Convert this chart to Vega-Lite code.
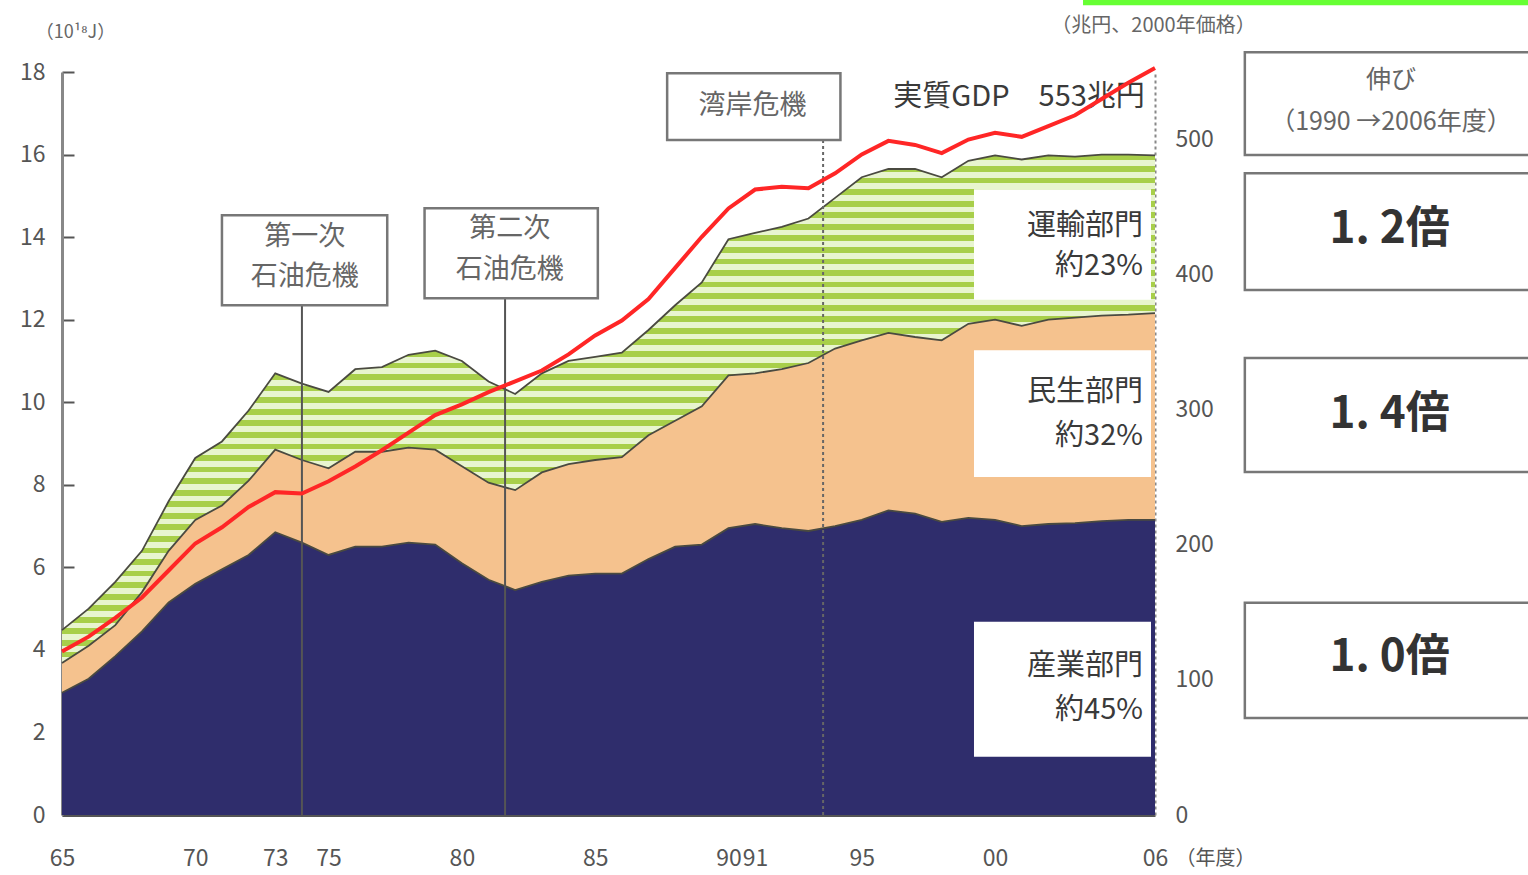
{
"$schema": "https://vega.github.io/schema/vega-lite/v6.json",
"width": 1093, "height": 743,
"autosize": {"type": "none"},
"padding": {"left": 62, "top": 72, "right": 373, "bottom": 60},
"background": "white",
"config": {"view": {"stroke": null}, "font": "Noto Sans CJK JP"},
"datasets": {
"energy": [
{"year":1965,"ind":2.96,"res":0.72,"tra":0.80,"gdp":121},
{"year":1966,"ind":3.30,"res":0.80,"tra":0.90,"gdp":132},
{"year":1967,"ind":3.85,"res":0.75,"tra":1.05,"gdp":146},
{"year":1968,"ind":4.45,"res":0.95,"tra":1.00,"gdp":161},
{"year":1969,"ind":5.15,"res":1.25,"tra":1.20,"gdp":181},
{"year":1970,"ind":5.60,"res":1.55,"tra":1.50,"gdp":201},
{"year":1971,"ind":5.95,"res":1.55,"tra":1.55,"gdp":213},
{"year":1972,"ind":6.30,"res":1.80,"tra":1.70,"gdp":228},
{"year":1973,"ind":6.85,"res":2.00,"tra":1.85,"gdp":239},
{"year":1974,"ind":6.60,"res":2.00,"tra":1.85,"gdp":238},
{"year":1975,"ind":6.30,"res":2.10,"tra":1.85,"gdp":247},
{"year":1976,"ind":6.50,"res":2.30,"tra":2.00,"gdp":258},
{"year":1977,"ind":6.50,"res":2.30,"tra":2.05,"gdp":270},
{"year":1978,"ind":6.60,"res":2.30,"tra":2.25,"gdp":283},
{"year":1979,"ind":6.55,"res":2.30,"tra":2.40,"gdp":296},
{"year":1980,"ind":6.10,"res":2.35,"tra":2.55,"gdp":304},
{"year":1981,"ind":5.70,"res":2.35,"tra":2.45,"gdp":313},
{"year":1982,"ind":5.45,"res":2.42,"tra":2.33,"gdp":321},
{"year":1983,"ind":5.65,"res":2.65,"tra":2.40,"gdp":329},
{"year":1984,"ind":5.80,"res":2.70,"tra":2.50,"gdp":341},
{"year":1985,"ind":5.85,"res":2.75,"tra":2.50,"gdp":355},
{"year":1986,"ind":5.85,"res":2.82,"tra":2.53,"gdp":366},
{"year":1987,"ind":6.20,"res":3.00,"tra":2.55,"gdp":382},
{"year":1988,"ind":6.50,"res":3.05,"tra":2.80,"gdp":405},
{"year":1989,"ind":6.55,"res":3.35,"tra":3.00,"gdp":428},
{"year":1990,"ind":6.95,"res":3.70,"tra":3.30,"gdp":449},
{"year":1991,"ind":7.05,"res":3.65,"tra":3.40,"gdp":463},
{"year":1992,"ind":6.95,"res":3.85,"tra":3.45,"gdp":465},
{"year":1993,"ind":6.88,"res":4.07,"tra":3.50,"gdp":464},
{"year":1994,"ind":7.00,"res":4.30,"tra":3.65,"gdp":475},
{"year":1995,"ind":7.15,"res":4.35,"tra":3.95,"gdp":489},
{"year":1996,"ind":7.38,"res":4.30,"tra":3.97,"gdp":499},
{"year":1997,"ind":7.30,"res":4.28,"tra":4.07,"gdp":496},
{"year":1998,"ind":7.10,"res":4.40,"tra":3.95,"gdp":490},
{"year":1999,"ind":7.20,"res":4.70,"tra":3.95,"gdp":500},
{"year":2000,"ind":7.15,"res":4.85,"tra":3.98,"gdp":505},
{"year":2001,"ind":7.00,"res":4.85,"tra":4.03,"gdp":502},
{"year":2002,"ind":7.05,"res":4.95,"tra":3.98,"gdp":510},
{"year":2003,"ind":7.07,"res":4.98,"tra":3.90,"gdp":518},
{"year":2004,"ind":7.12,"res":4.98,"tra":3.90,"gdp":530},
{"year":2005,"ind":7.15,"res":4.97,"tra":3.88,"gdp":542},
{"year":2006,"ind":7.15,"res":5.01,"tra":3.82,"gdp":553}
],
"boxes": [
{"g":"crisis","x":1971.0,"x2":1977.2,"y":14.53,"y2":12.35},
{"g":"crisis","x":1978.6,"x2":1985.1,"y":14.7,"y2":12.52},
{"g":"crisis","x":1987.7,"x2":1994.2,"y":17.97,"y2":16.35},
{"g":"white","x":1999.21,"x2":2005.85,"y":15.16,"y2":12.48},
{"g":"white","x":1999.21,"x2":2005.85,"y":11.26,"y2":8.19},
{"g":"white","x":1999.21,"x2":2005.85,"y":4.68,"y2":1.41},
{"g":"side","x":2009.37,"x2":2021,"y":18.48,"y2":15.99},
{"g":"side","x":2009.37,"x2":2021,"y":15.55,"y2":12.72},
{"g":"side","x":2009.37,"x2":2021,"y":11.07,"y2":8.31},
{"g":"side","x":2009.37,"x2":2021,"y":5.14,"y2":2.35},
{"g":"bar","x":2003.3,"x2":2021,"y":19.8,"y2":19.62}
],
"rules": [
{"g":"solid","x":1974.0,"top":12.35,"bottom":0},
{"g":"solid","x":1981.62,"top":12.52,"bottom":0},
{"g":"dot","x":1993.55,"top":16.35,"bottom":0}
],
"texts": [
{"g":"crisis","x":1974.11,"y":14.0,"t":"第一次"},
{"g":"crisis","x":1974.11,"y":13.03,"t":"石油危機"},
{"g":"crisis","x":1981.8,"y":14.19,"t":"第二次"},
{"g":"crisis","x":1981.8,"y":13.2,"t":"石油危機"},
{"g":"crisis","x":1990.9,"y":17.18,"t":"湾岸危機"},
{"g":"sector","x":2005.55,"y":14.27,"t":"運輸部門"},
{"g":"sector","x":2005.55,"y":13.30,"t":"約23%"},
{"g":"sector","x":2005.55,"y":10.25,"t":"民生部門"},
{"g":"sector","x":2005.55,"y":9.18,"t":"約32%"},
{"g":"sector","x":2005.55,"y":3.61,"t":"産業部門"},
{"g":"sector","x":2005.55,"y":2.54,"t":"約45%"},
{"g":"sector","x":2005.62,"y":17.39,"t":"実質GDP　553兆円"},
{"g":"side","x":2014.85,"y":17.8,"t":"伸び"},
{"g":"side","x":2014.85,"y":16.79,"t":"（1990 →2006年度）"},
{"g":"big","x":2014.8,"y":14.17,"t":"1. 2倍"},
{"g":"big","x":2014.8,"y":9.69,"t":"1. 4倍"},
{"g":"big","x":2014.8,"y":3.8,"t":"1. 0倍"}
]
},
"data": {"name": "energy"},
"layer": [
{"layer": [
{"transform": [{"fold":["ind","res","tra"],"as":["sector","v"]},{"stack":"v","groupby":["year"],"sort":[{"field":"sector","order":"ascending"}],"as":["y0","y1"]},{"filter":"datum.sector == 'ind'"}],
 "mark": {"type":"area","color":"#2f2d6c"},
 "encoding": {
  "x": {"field":"year","type":"quantitative","scale":{"domain":[1965,2006],"nice":false,"zero":false},
        "axis":{"values":[1965,1970,1973,1975,1980,1985,1990,1991,1995,2000,2006],"labelExpr":"substring(toString(datum.value), 2, 4)","grid":false,"ticks":false,"domainColor":"#555","domainWidth":3,"labelFontSize":23,"labelColor":"#555","labelPadding":32,"labelOverlap":false,"labelFlush":false,"labelBound":false,"title":"（年度）","titleX":1153,"titleY":43,"titleFontSize":20,"titleFontWeight":"normal","titleColor":"#555","titleBaseline":"middle","titleAlign":"center"}},
  "y": {"field":"y1","type":"quantitative","scale":{"domain":[0,18],"nice":false},
        "axis":{"values":[0,2,4,6,8,10,12,14,16,18],"grid":false,"tickSize":-12,"tickWidth":2,"tickColor":"#555","domainColor":"#888","domainWidth":3,"labelFontSize":23,"labelColor":"#555","labelPadding":29,"title":"（10¹⁸J）","titleAngle":0,"titleX":13,"titleY":-40,"titleFontSize":18,"titleFontWeight":"normal","titleColor":"#666","titleAlign":"center","titleBaseline":"middle"}},
  "y2": {"field":"y0"}
 }},
{"transform": [{"fold":["ind","res","tra"],"as":["sector","v"]},{"stack":"v","groupby":["year"],"sort":[{"field":"sector","order":"ascending"}],"as":["y0","y1"]},{"filter":"datum.sector == 'res'"}],
 "mark": {"type":"area","color":"#f5c28e"},
 "encoding": {
  "x": {"field":"year","type":"quantitative","scale":{"domain":[1965,2006],"nice":false,"zero":false}},
  "y": {"field":"y1","type":"quantitative","scale":{"domain":[0,18],"nice":false}},
  "y2": {"field":"y0"}
 }},
{"transform": [{"fold":["ind","res","tra"],"as":["sector","v"]},{"stack":"v","groupby":["year"],"sort":[{"field":"sector","order":"ascending"}],"as":["y0","y1"]},{"filter":"datum.sector == 'tra'"}],
 "mark": {"type":"area","color":{"gradient":"linear","x1":0,"y1":0,"x2":0,"y2":1,"stops":[
{"offset":0,"color":"#a8cf4a"},{"offset":0.0114,"color":"#a8cf4a"},
{"offset":0.0114,"color":"#e8f5cf"},{"offset":0.0227,"color":"#e8f5cf"},
{"offset":0.0227,"color":"#a8cf4a"},{"offset":0.0341,"color":"#a8cf4a"},
{"offset":0.0341,"color":"#e8f5cf"},{"offset":0.0455,"color":"#e8f5cf"},
{"offset":0.0455,"color":"#a8cf4a"},{"offset":0.0568,"color":"#a8cf4a"},
{"offset":0.0568,"color":"#e8f5cf"},{"offset":0.0682,"color":"#e8f5cf"},
{"offset":0.0682,"color":"#a8cf4a"},{"offset":0.0795,"color":"#a8cf4a"},
{"offset":0.0795,"color":"#e8f5cf"},{"offset":0.0909,"color":"#e8f5cf"},
{"offset":0.0909,"color":"#a8cf4a"},{"offset":0.1023,"color":"#a8cf4a"},
{"offset":0.1023,"color":"#e8f5cf"},{"offset":0.1136,"color":"#e8f5cf"},
{"offset":0.1136,"color":"#a8cf4a"},{"offset":0.125,"color":"#a8cf4a"},
{"offset":0.125,"color":"#e8f5cf"},{"offset":0.1364,"color":"#e8f5cf"},
{"offset":0.1364,"color":"#a8cf4a"},{"offset":0.1477,"color":"#a8cf4a"},
{"offset":0.1477,"color":"#e8f5cf"},{"offset":0.1591,"color":"#e8f5cf"},
{"offset":0.1591,"color":"#a8cf4a"},{"offset":0.1705,"color":"#a8cf4a"},
{"offset":0.1705,"color":"#e8f5cf"},{"offset":0.1818,"color":"#e8f5cf"},
{"offset":0.1818,"color":"#a8cf4a"},{"offset":0.1932,"color":"#a8cf4a"},
{"offset":0.1932,"color":"#e8f5cf"},{"offset":0.2045,"color":"#e8f5cf"},
{"offset":0.2045,"color":"#a8cf4a"},{"offset":0.2159,"color":"#a8cf4a"},
{"offset":0.2159,"color":"#e8f5cf"},{"offset":0.2273,"color":"#e8f5cf"},
{"offset":0.2273,"color":"#a8cf4a"},{"offset":0.2386,"color":"#a8cf4a"},
{"offset":0.2386,"color":"#e8f5cf"},{"offset":0.25,"color":"#e8f5cf"},
{"offset":0.25,"color":"#a8cf4a"},{"offset":0.2614,"color":"#a8cf4a"},
{"offset":0.2614,"color":"#e8f5cf"},{"offset":0.2727,"color":"#e8f5cf"},
{"offset":0.2727,"color":"#a8cf4a"},{"offset":0.2841,"color":"#a8cf4a"},
{"offset":0.2841,"color":"#e8f5cf"},{"offset":0.2955,"color":"#e8f5cf"},
{"offset":0.2955,"color":"#a8cf4a"},{"offset":0.3068,"color":"#a8cf4a"},
{"offset":0.3068,"color":"#e8f5cf"},{"offset":0.3182,"color":"#e8f5cf"},
{"offset":0.3182,"color":"#a8cf4a"},{"offset":0.3295,"color":"#a8cf4a"},
{"offset":0.3295,"color":"#e8f5cf"},{"offset":0.3409,"color":"#e8f5cf"},
{"offset":0.3409,"color":"#a8cf4a"},{"offset":0.3523,"color":"#a8cf4a"},
{"offset":0.3523,"color":"#e8f5cf"},{"offset":0.3636,"color":"#e8f5cf"},
{"offset":0.3636,"color":"#a8cf4a"},{"offset":0.375,"color":"#a8cf4a"},
{"offset":0.375,"color":"#e8f5cf"},{"offset":0.3864,"color":"#e8f5cf"},
{"offset":0.3864,"color":"#a8cf4a"},{"offset":0.3977,"color":"#a8cf4a"},
{"offset":0.3977,"color":"#e8f5cf"},{"offset":0.4091,"color":"#e8f5cf"},
{"offset":0.4091,"color":"#a8cf4a"},{"offset":0.4205,"color":"#a8cf4a"},
{"offset":0.4205,"color":"#e8f5cf"},{"offset":0.4318,"color":"#e8f5cf"},
{"offset":0.4318,"color":"#a8cf4a"},{"offset":0.4432,"color":"#a8cf4a"},
{"offset":0.4432,"color":"#e8f5cf"},{"offset":0.4545,"color":"#e8f5cf"},
{"offset":0.4545,"color":"#a8cf4a"},{"offset":0.4659,"color":"#a8cf4a"},
{"offset":0.4659,"color":"#e8f5cf"},{"offset":0.4773,"color":"#e8f5cf"},
{"offset":0.4773,"color":"#a8cf4a"},{"offset":0.4886,"color":"#a8cf4a"},
{"offset":0.4886,"color":"#e8f5cf"},{"offset":0.5,"color":"#e8f5cf"},
{"offset":0.5,"color":"#a8cf4a"},{"offset":0.5114,"color":"#a8cf4a"},
{"offset":0.5114,"color":"#e8f5cf"},{"offset":0.5227,"color":"#e8f5cf"},
{"offset":0.5227,"color":"#a8cf4a"},{"offset":0.5341,"color":"#a8cf4a"},
{"offset":0.5341,"color":"#e8f5cf"},{"offset":0.5455,"color":"#e8f5cf"},
{"offset":0.5455,"color":"#a8cf4a"},{"offset":0.5568,"color":"#a8cf4a"},
{"offset":0.5568,"color":"#e8f5cf"},{"offset":0.5682,"color":"#e8f5cf"},
{"offset":0.5682,"color":"#a8cf4a"},{"offset":0.5795,"color":"#a8cf4a"},
{"offset":0.5795,"color":"#e8f5cf"},{"offset":0.5909,"color":"#e8f5cf"},
{"offset":0.5909,"color":"#a8cf4a"},{"offset":0.6023,"color":"#a8cf4a"},
{"offset":0.6023,"color":"#e8f5cf"},{"offset":0.6136,"color":"#e8f5cf"},
{"offset":0.6136,"color":"#a8cf4a"},{"offset":0.625,"color":"#a8cf4a"},
{"offset":0.625,"color":"#e8f5cf"},{"offset":0.6364,"color":"#e8f5cf"},
{"offset":0.6364,"color":"#a8cf4a"},{"offset":0.6477,"color":"#a8cf4a"},
{"offset":0.6477,"color":"#e8f5cf"},{"offset":0.6591,"color":"#e8f5cf"},
{"offset":0.6591,"color":"#a8cf4a"},{"offset":0.6705,"color":"#a8cf4a"},
{"offset":0.6705,"color":"#e8f5cf"},{"offset":0.6818,"color":"#e8f5cf"},
{"offset":0.6818,"color":"#a8cf4a"},{"offset":0.6932,"color":"#a8cf4a"},
{"offset":0.6932,"color":"#e8f5cf"},{"offset":0.7045,"color":"#e8f5cf"},
{"offset":0.7045,"color":"#a8cf4a"},{"offset":0.7159,"color":"#a8cf4a"},
{"offset":0.7159,"color":"#e8f5cf"},{"offset":0.7273,"color":"#e8f5cf"},
{"offset":0.7273,"color":"#a8cf4a"},{"offset":0.7386,"color":"#a8cf4a"},
{"offset":0.7386,"color":"#e8f5cf"},{"offset":0.75,"color":"#e8f5cf"},
{"offset":0.75,"color":"#a8cf4a"},{"offset":0.7614,"color":"#a8cf4a"},
{"offset":0.7614,"color":"#e8f5cf"},{"offset":0.7727,"color":"#e8f5cf"},
{"offset":0.7727,"color":"#a8cf4a"},{"offset":0.7841,"color":"#a8cf4a"},
{"offset":0.7841,"color":"#e8f5cf"},{"offset":0.7955,"color":"#e8f5cf"},
{"offset":0.7955,"color":"#a8cf4a"},{"offset":0.8068,"color":"#a8cf4a"},
{"offset":0.8068,"color":"#e8f5cf"},{"offset":0.8182,"color":"#e8f5cf"},
{"offset":0.8182,"color":"#a8cf4a"},{"offset":0.8295,"color":"#a8cf4a"},
{"offset":0.8295,"color":"#e8f5cf"},{"offset":0.8409,"color":"#e8f5cf"},
{"offset":0.8409,"color":"#a8cf4a"},{"offset":0.8523,"color":"#a8cf4a"},
{"offset":0.8523,"color":"#e8f5cf"},{"offset":0.8636,"color":"#e8f5cf"},
{"offset":0.8636,"color":"#a8cf4a"},{"offset":0.875,"color":"#a8cf4a"},
{"offset":0.875,"color":"#e8f5cf"},{"offset":0.8864,"color":"#e8f5cf"},
{"offset":0.8864,"color":"#a8cf4a"},{"offset":0.8977,"color":"#a8cf4a"},
{"offset":0.8977,"color":"#e8f5cf"},{"offset":0.9091,"color":"#e8f5cf"},
{"offset":0.9091,"color":"#a8cf4a"},{"offset":0.9205,"color":"#a8cf4a"},
{"offset":0.9205,"color":"#e8f5cf"},{"offset":0.9318,"color":"#e8f5cf"},
{"offset":0.9318,"color":"#a8cf4a"},{"offset":0.9432,"color":"#a8cf4a"},
{"offset":0.9432,"color":"#e8f5cf"},{"offset":0.9545,"color":"#e8f5cf"},
{"offset":0.9545,"color":"#a8cf4a"},{"offset":0.9659,"color":"#a8cf4a"},
{"offset":0.9659,"color":"#e8f5cf"},{"offset":0.9773,"color":"#e8f5cf"},
{"offset":0.9773,"color":"#a8cf4a"},{"offset":0.9886,"color":"#a8cf4a"},
{"offset":0.9886,"color":"#e8f5cf"},{"offset":1,"color":"#e8f5cf"}]}},
 "encoding": {
  "x": {"field":"year","type":"quantitative","scale":{"domain":[1965,2006],"nice":false,"zero":false}},
  "y": {"field":"y1","type":"quantitative","scale":{"domain":[0,18],"nice":false}},
  "y2": {"field":"y0"}
 }},
{"transform": [{"fold":["ind","res","tra"],"as":["sector","v"]},{"stack":"v","groupby":["year"],"sort":[{"field":"sector","order":"ascending"}],"as":["y0","y1"]}],
 "mark": {"type":"line","color":"#4a4a40","strokeWidth":1.8},
 "encoding": {
  "x": {"field":"year","type":"quantitative","scale":{"domain":[1965,2006],"nice":false,"zero":false}},
  "y": {"field":"y1","type":"quantitative","scale":{"domain":[0,18],"nice":false}},
  "detail": {"field":"sector"}
 }},
{"data": {"name":"boxes"}, "transform":[{"filter":"datum.g == 'white'"}],
 "mark": {"type":"rect","color":"white"},
 "encoding": {
  "x": {"field":"x","type":"quantitative","scale":{"domain":[1965,2006],"nice":false,"zero":false}},
  "x2": {"field":"x2"},
  "y": {"field":"y","type":"quantitative","scale":{"domain":[0,18],"nice":false}},
  "y2": {"field":"y2"}
 }},
{"data": {"name":"rules"}, "transform":[{"filter":"datum.g == 'solid'"}],
 "mark": {"type":"rule","color":"#555","strokeWidth":2},
 "encoding": {
  "x": {"field":"x","type":"quantitative","scale":{"domain":[1965,2006],"nice":false,"zero":false}},
  "y": {"field":"top","type":"quantitative","scale":{"domain":[0,18],"nice":false}},
  "y2": {"field":"bottom"}
 }},
{"data": {"name":"rules"}, "transform":[{"filter":"datum.g == 'dot'"}],
 "mark": {"type":"rule","color":"#666","strokeWidth":2,"strokeDash":[3,3]},
 "encoding": {
  "x": {"field":"x","type":"quantitative","scale":{"domain":[1965,2006],"nice":false,"zero":false}},
  "y": {"field":"top","type":"quantitative","scale":{"domain":[0,18],"nice":false}},
  "y2": {"field":"bottom"}
 }},
{"data": {"name":"boxes"}, "transform":[{"filter":"datum.g == 'crisis' || datum.g == 'side'"}],
 "mark": {"type":"rect","fill":"white","stroke":"#777","strokeWidth":2.5},
 "encoding": {
  "x": {"field":"x","type":"quantitative","scale":{"domain":[1965,2006],"nice":false,"zero":false}},
  "x2": {"field":"x2"},
  "y": {"field":"y","type":"quantitative","scale":{"domain":[0,18],"nice":false}},
  "y2": {"field":"y2"}
 }},
{"data": {"name":"boxes"}, "transform":[{"filter":"datum.g == 'bar'"}],
 "mark": {"type":"rect","color":"#66ff33"},
 "encoding": {
  "x": {"field":"x","type":"quantitative","scale":{"domain":[1965,2006],"nice":false,"zero":false}},
  "x2": {"field":"x2"},
  "y": {"field":"y","type":"quantitative","scale":{"domain":[0,18],"nice":false}},
  "y2": {"field":"y2"}
 }},
{"data": {"name":"texts"}, "transform":[{"filter":"datum.g == 'crisis'"}],
 "mark": {"type":"text","fontSize":27,"color":"#666","align":"center","baseline":"middle"},
 "encoding": {
  "x": {"field":"x","type":"quantitative","scale":{"domain":[1965,2006],"nice":false,"zero":false}},
  "y": {"field":"y","type":"quantitative","scale":{"domain":[0,18],"nice":false}},
  "text": {"field":"t"}
 }},
{"data": {"name":"texts"}, "transform":[{"filter":"datum.g == 'sector'"}],
 "mark": {"type":"text","fontSize":29,"color":"#3a3a3a","align":"right","baseline":"middle"},
 "encoding": {
  "x": {"field":"x","type":"quantitative","scale":{"domain":[1965,2006],"nice":false,"zero":false}},
  "y": {"field":"y","type":"quantitative","scale":{"domain":[0,18],"nice":false}},
  "text": {"field":"t"}
 }},
{"data": {"name":"texts"}, "transform":[{"filter":"datum.g == 'side'"}],
 "mark": {"type":"text","fontSize":25,"color":"#666","align":"center","baseline":"middle"},
 "encoding": {
  "x": {"field":"x","type":"quantitative","scale":{"domain":[1965,2006],"nice":false,"zero":false}},
  "y": {"field":"y","type":"quantitative","scale":{"domain":[0,18],"nice":false}},
  "text": {"field":"t"}
 }},
{"data": {"name":"texts"}, "transform":[{"filter":"datum.g == 'big'"}],
 "mark": {"type":"text","fontSize":44,"fontWeight":"bold","color":"#333","align":"center","baseline":"middle"},
 "encoding": {
  "x": {"field":"x","type":"quantitative","scale":{"domain":[1965,2006],"nice":false,"zero":false}},
  "y": {"field":"y","type":"quantitative","scale":{"domain":[0,18],"nice":false}},
  "text": {"field":"t"}
 }}
]},
{"mark": {"type":"line","color":"#ff2626","strokeWidth":4},
 "encoding": {
  "x": {"field":"year","type":"quantitative","scale":{"domain":[1965,2006],"nice":false,"zero":false}},
  "y": {"field":"gdp","type":"quantitative","scale":{"domain":[0,550],"nice":false},
        "axis":{"orient":"right","values":[0,100,200,300,400,500],"grid":false,"ticks":false,"domainColor":"#888","domainWidth":2,"domainDash":[3,3],"labelFontSize":23,"labelColor":"#555","labelPadding":20,"title":"（兆円、2000年価格）","titleAngle":0,"titleX":-2,"titleY":-47,"titleFontSize":20,"titleFontWeight":"normal","titleColor":"#666","titleAlign":"center","titleBaseline":"middle"}}
 }}
],
"resolve": {"scale": {"y": "independent"}}
}
